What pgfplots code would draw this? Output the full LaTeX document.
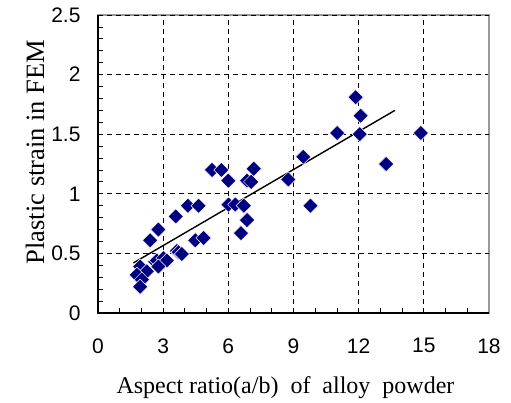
\documentclass[border=0pt]{standalone}
\usepackage{fontspec}
\setmainfont{Liberation Serif}
\newfontfamily\ticksans{Liberation Sans}
\usepackage{pgfplots}
\pgfplotsset{compat=1.18}

\definecolor{navy}{RGB}{0,0,128}

\begin{document}
\begin{tikzpicture}
\useasboundingbox (-98pt,-90pt) rectangle (413pt,313pt);
\begin{axis}[
    at={(0,0)}, anchor=south west,
    scale only axis,
    width=391pt, height=298pt,
    xmin=0, xmax=18, ymin=0, ymax=2.5,
    xtick={0,3,...,18},
    ytick={0,1,2},
    extra y ticks={0.5,1.5,2.5},
    extra y tick labels={0.5,1.5,2.5},
    extra y tick style={grid style={gray, line width=0.8pt, dash pattern=on 7pt off 5pt}},
    minor xtick={0,1,...,18},
    minor ytick={0,0.1,...,2.5},
    tick align=inside,
    xtick pos=bottom, ytick pos=left,
    major tick length=5pt, minor tick length=5pt,
    every tick/.style={black, line width=0.8pt},
    grid=major,
    major grid style={black, line width=0.8pt, dash pattern=on 5pt off 4pt},
    axis line style={gray!80, line width=1.2pt},
    /pgf/number format/assume math mode=true,
    ticklabel style={font=\ticksans\fontsize{21}{24}\selectfont},
    xticklabel style={yshift=-22pt},
    yticklabel style={xshift=-14pt},
    xlabel={Aspect ratio(a/b)\ \ of\ \ alloy\ \ powder},
    ylabel={Plastic strain in FEM},
    xlabel style={font=\fontsize{24}{28}\selectfont, yshift=-16pt, xshift=-8pt},
    ylabel style={font=\fontsize{26.5}{30}\selectfont, yshift=0pt, xshift=12pt},
    clip=false,
]
\addplot[only marks, mark=square*, mark size=5.4pt,
    mark options={rotate=45, fill=navy, draw=white, line width=0.5pt}]
coordinates {
    (5.25,1.20) (5.68,1.20) (7.17,1.21) (6.00,1.11) (6.86,1.11) (7.05,1.10)
    (8.76,1.12) (3.58,0.81) (4.14,0.90) (4.63,0.90) (6.01,0.91) (6.32,0.91)
    (6.71,0.90) (6.86,0.78) (6.58,0.67) (2.78,0.70) (2.40,0.61) (4.48,0.61)
    (4.86,0.63) (3.63,0.52) (3.71,0.51) (3.86,0.495) (2.63,0.43) (2.71,0.44)
    (3.02,0.46) (3.17,0.44) (2.78,0.39) (1.94,0.39) (2.25,0.35) (1.79,0.32)
    (2.02,0.28) (1.94,0.22) (11.86,1.81) (12.09,1.655) (11.01,1.51)
    (12.05,1.50) (14.86,1.51) (9.45,1.31) (13.26,1.25) (9.78,0.90)
};
\addplot[black, line width=1.4pt] coordinates {(1.63,0.42) (13.67,1.70)};
\draw[black, line width=1.4pt] (rel axis cs:0,1) -- (rel axis cs:0,0) -- (rel axis cs:1,0);
\end{axis}
\end{tikzpicture}
\end{document}
